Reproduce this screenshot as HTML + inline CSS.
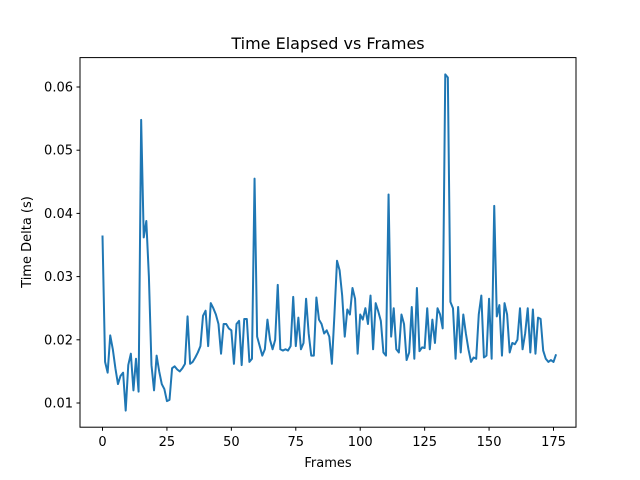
<!DOCTYPE html>
<html><head><meta charset="utf-8"><style>body{margin:0;background:#fff}svg{display:block;font-family:"DejaVu Sans","Liberation Sans",sans-serif}</style></head>
<body>
<svg id="chart" width="640" height="480">
<rect x="0" y="0" width="640" height="480" fill="#fff"/>
<text x="328" y="49" text-anchor="middle" font-size="16">Time Elapsed vs Frames</text>
<g id="axes"></g>
<path id="line" fill="none" stroke="#1f77b4" stroke-width="2" stroke-linejoin="round"/>
<rect x="80" y="57.6" width="496" height="369.6" fill="none" stroke="#000" stroke-width="1"/>
<text x="328" y="467" text-anchor="middle" font-size="13">Frames</text>
<text x="0" y="0" text-anchor="middle" font-size="13" transform="translate(31,242) rotate(-90)">Time Delta (s)</text>
</svg>
<script>
const values=[0.0365,0.0165,0.0148,0.0207,0.0185,0.0155,0.013,0.0143,0.0148,0.0088,0.016,0.0178,0.012,0.017,0.0118,0.0548,0.0362,0.0388,0.03,0.016,0.012,0.0175,0.015,0.013,0.0122,0.0103,0.0105,0.0155,0.0158,0.0153,0.015,0.0155,0.0162,0.0237,0.0162,0.0165,0.0172,0.018,0.019,0.0238,0.0246,0.019,0.0258,0.025,0.024,0.0225,0.0178,0.0225,0.0225,0.0218,0.0215,0.0162,0.0225,0.023,0.016,0.0233,0.0233,0.0165,0.017,0.0455,0.0205,0.019,0.0175,0.0185,0.0232,0.02,0.0185,0.02,0.0287,0.0185,0.0183,0.0185,0.0183,0.019,0.0268,0.019,0.0235,0.0185,0.0195,0.0265,0.021,0.0175,0.0175,0.0267,0.0232,0.0225,0.021,0.0215,0.0205,0.0162,0.024,0.0325,0.031,0.027,0.0205,0.0248,0.024,0.0282,0.0265,0.0178,0.024,0.0232,0.025,0.0225,0.027,0.0185,0.0258,0.0245,0.023,0.018,0.0175,0.043,0.0205,0.025,0.0185,0.018,0.024,0.0225,0.0168,0.018,0.0252,0.017,0.0282,0.0182,0.0188,0.0187,0.025,0.0185,0.0232,0.0195,0.025,0.024,0.0218,0.062,0.0615,0.026,0.025,0.017,0.0252,0.018,0.024,0.021,0.0185,0.0165,0.0172,0.017,0.024,0.027,0.0172,0.0175,0.0265,0.017,0.0412,0.0237,0.0255,0.0175,0.0258,0.024,0.018,0.0195,0.0193,0.02,0.025,0.0185,0.021,0.025,0.018,0.0248,0.0178,0.0235,0.0233,0.0183,0.017,0.0165,0.0168,0.0165,0.0177];
const xTicks=[0,25,50,75,100,125,150,175];
const yTicks=[0.01,0.02,0.03,0.04,0.05,0.06];
const yTickLabels=["0.01","0.02","0.03","0.04","0.05","0.06"];
const X=f=>102.5+f*(553.5-102.5)/175;
const Y=v=>403-(v-0.01)*6320;
const NS="http://www.w3.org/2000/svg";
const ax=document.getElementById('axes');
function mk(t,a){const e=document.createElementNS(NS,t);for(const k in a)e.setAttribute(k,a[k]);return e;}
xTicks.forEach(t=>{const x=X(t);
 const l=mk('line',{x1:x,x2:x,y1:427.2,y2:430.7,stroke:'#000'});
 
 ax.appendChild(l);
 const tx=mk('text',{x:x,y:446,'text-anchor':'middle','font-size':'13'});tx.textContent=t;
 
 ax.appendChild(tx);});
yTicks.forEach((t,i)=>{const y=Y(t);
 const l=mk('line',{x1:76.5,x2:80,y1:y,y2:y,stroke:'#000'});
 
 ax.appendChild(l);
 const tx=mk('text',{x:73,y:y+4.5,'text-anchor':'end','font-size':'13'});tx.textContent=yTickLabels[i];
 
 ax.appendChild(tx);});
document.getElementById('line').setAttribute('d',values.map((v,i)=>(i?'L':'M')+X(i).toFixed(2)+' '+Y(v).toFixed(2)).join(''));
</script>
</body></html>
